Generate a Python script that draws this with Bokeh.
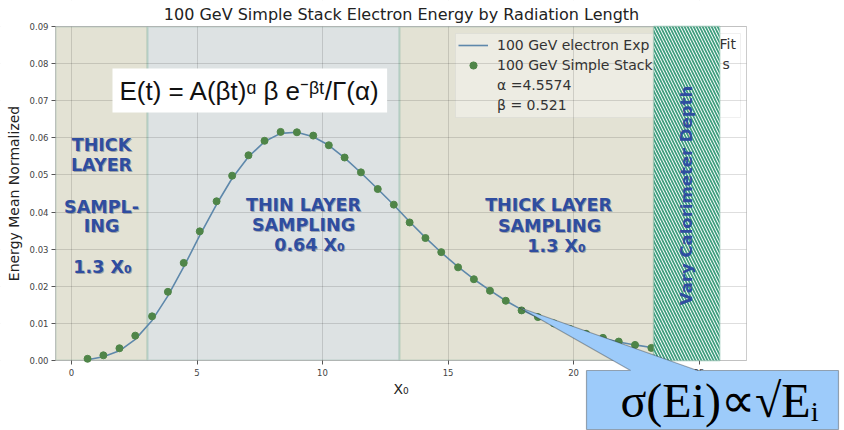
import numpy as np
from bokeh.plotting import figure
from bokeh.models import (BoxAnnotation, Label, PolyAnnotation, Legend, LegendItem,
                          FixedTicker, Range1d, NumeralTickFormatter, LinearAxis, Grid)
from bokeh.embed import file_html
from bokeh.resources import INLINE

# ---------------- data ----------------
depth_x0 = [0.64, 1.27, 1.91, 2.54, 3.21, 3.84, 4.47, 5.11, 5.78, 6.40, 7.05, 7.69,
            8.33, 8.98, 9.63, 10.25, 10.88, 11.53, 12.20, 12.84, 13.47, 14.10, 14.73,
            15.40, 16.03, 16.67, 17.30, 17.93, 18.58, 19.22, 19.86, 20.50, 21.17,
            21.80, 22.45, 23.10]
energy_mean = [0.00046, 0.0014, 0.0033, 0.0067, 0.0119, 0.0185, 0.0263, 0.0348,
               0.0429, 0.0498, 0.0553, 0.0592, 0.0616, 0.0615, 0.0606, 0.0580,
               0.0547, 0.0507, 0.0462, 0.0420, 0.0372, 0.0330, 0.0292, 0.0251,
               0.0219, 0.0188, 0.0161, 0.0135, 0.0117, 0.0100, 0.0085, 0.0072,
               0.0061, 0.0051, 0.0042, 0.0034]
fit_x0 = [0.64, 1.27, 1.91, 2.54, 3.21, 3.84, 4.47, 5.11, 5.78, 6.40, 7.05, 7.69,
          8.33, 8.98, 9.63, 10.25, 10.88, 11.53, 12.20, 12.84, 13.47, 14.10, 14.73,
          15.40, 16.03, 16.67, 17.30, 17.93, 18.58, 19.22, 19.86, 20.50, 21.17,
          21.80, 22.45, 23.10]
fit_energy = [0.0002, 0.0010, 0.0026, 0.0057, 0.0108, 0.0174, 0.0252, 0.0337,
              0.0421, 0.0491, 0.0549, 0.0590, 0.0612, 0.0615, 0.0603, 0.0580,
              0.0546, 0.0506, 0.0462, 0.0419, 0.0374, 0.0331, 0.0291, 0.0252,
              0.0219, 0.0189, 0.0161, 0.0137, 0.0116, 0.0099, 0.0084, 0.0071,
              0.0060, 0.0050, 0.0042, 0.0035]

x_ticks = [0, 5, 10, 15, 20, 25]
y_ticks = [0.00, 0.01, 0.02, 0.03, 0.04, 0.05, 0.06, 0.07, 0.08, 0.09]

region_edges = [-0.6375, 3.03, 13.07, 23.2]   # thick | thin | thick sampling
vary_depth = [23.2, 25.82]

title = "100 GeV Simple Stack Electron Energy by Radiation Length"
# legend texts as visible in the picture (the hatched block hides the middle)
fit_label = "100 GeV electron Exp"
fit_label_tail = "Fit"
pts_label = "100 GeV Simple Stack"
pts_label_tail = "s"
alpha_label = "\u03b1 =4.5574"
beta_label = "\u03b2 = 0.521"

# ---------------- geometry helpers ----------------
W, H = 844, 430
FL, FR, FT, FB = 55, 746, 26, 360          # plot-area box in page pixels
XR = (-0.6375, 26.89)
YR = (0.0, 0.09)

def dx(px):
    return XR[0] + (px - FL) * (XR[1] - XR[0]) / (FR - FL)

def dy(py):
    return YR[0] + (FB - py) * (YR[1] - YR[0]) / (FB - FT)

# the frame covers the whole canvas; the axes sit at fixed locations
p = figure(width=W, height=H, output_backend="svg", toolbar_location=None,
           x_range=Range1d(dx(0), dx(W)), y_range=Range1d(dy(H), dy(0)),
           x_axis_location=None, y_axis_location=None,
           min_border_left=0, min_border_right=0, min_border_top=0,
           min_border_bottom=0, title=None)
p.background_fill_color = "white"
p.border_fill_color = "white"
p.outline_line_color = None

xaxis = LinearAxis(fixed_location=YR[0], ticker=FixedTicker(ticks=x_ticks),
                   axis_label="X\u2080", bounds=XR)
yaxis = LinearAxis(fixed_location=XR[0], ticker=FixedTicker(ticks=y_ticks),
                   formatter=NumeralTickFormatter(format="0.00"),
                   axis_label="Energy Mean Normalized", bounds=YR)
for ax in (xaxis, yaxis):
    ax.axis_line_color = None
    ax.major_tick_line_color = "#555555"
    ax.major_tick_in = 0
    ax.major_tick_out = 4
    ax.minor_tick_line_color = None
    ax.major_label_text_font = "DejaVu Sans"
    ax.major_label_text_font_size = "8.5px"
    ax.major_label_text_color = "#444444"
    ax.axis_label_text_font = "DejaVu Sans"
    ax.axis_label_text_font_style = "normal"
    ax.axis_label_text_color = "#222222"
xaxis.axis_label_text_font_size = "14px"
xaxis.axis_label_standoff = 2
xaxis.major_label_standoff = 4
yaxis.axis_label_text_font_size = "14px"
yaxis.axis_label_standoff = 5
yaxis.major_label_standoff = 3
p.add_layout(xaxis, "below")
p.add_layout(yaxis, "left")

# ---------------- grid, shaded regions, masks ----------------
xgrid = Grid(dimension=0, ticker=FixedTicker(ticks=x_ticks), grid_line_color="#000000",
             grid_line_alpha=0.13, grid_line_width=1, level="underlay")
ygrid = Grid(dimension=1, ticker=FixedTicker(ticks=y_ticks), grid_line_color="#000000",
             grid_line_alpha=0.13, grid_line_width=1, level="underlay")

region_fills = ["#E3E2D4", "#DDE2E3", "#E3E2D4"]
boxes = []
for i, col in enumerate(region_fills):
    boxes.append(BoxAnnotation(left=region_edges[i], right=region_edges[i + 1],
                               bottom=YR[0], top=YR[1], fill_color=col, fill_alpha=1.0,
                               line_color="#6FAA94", line_width=2, level="underlay"))
legend_bg = BoxAnnotation(left=dx(455), right=dx(740), bottom=dy(117), top=dy(33),
                          fill_color="white", fill_alpha=0.35, line_color="#cccccc",
                          line_width=1, level="underlay")
masks = [
    BoxAnnotation(left=dx(0), right=XR[0], bottom=dy(H), top=dy(0)),
    BoxAnnotation(left=XR[1], right=dx(W), bottom=dy(H), top=dy(0)),
    BoxAnnotation(left=dx(0), right=dx(W), bottom=dy(H), top=YR[0]),
    BoxAnnotation(left=dx(0), right=dx(W), bottom=YR[1], top=dy(0)),
]
for m in masks:
    m.fill_color = "white"
    m.fill_alpha = 1.0
    m.line_color = None
    m.level = "underlay"
outline = BoxAnnotation(left=XR[0], right=XR[1], bottom=YR[0], top=YR[1],
                        fill_alpha=0, line_color="#555555", line_width=1,
                        level="underlay")
p.center = boxes + [legend_bg, xgrid, ygrid] + masks + [outline]

title_lbl = Label(x=dx(401), y=dy(14), text=title, text_align="center",
                  text_baseline="middle", text_font="DejaVu Sans",
                  text_font_size="16px", text_color="#222222")
p.add_layout(title_lbl)

# ---------------- data ----------------
r_fit = p.line(fit_x0, fit_energy, line_color="#5E88AB", line_width=1.6)
r_pts = p.scatter(depth_x0, energy_mean, size=7, fill_color="#4F8548",
                  line_color="#4F8548")
r_blank = p.scatter(x=[], y=[], fill_alpha=0, line_alpha=0)

legend = Legend(items=[LegendItem(label=fit_label, renderers=[r_fit]),
                       LegendItem(label=pts_label, renderers=[r_pts]),
                       LegendItem(label=alpha_label, renderers=[r_blank]),
                       LegendItem(label=beta_label, renderers=[r_blank])],
                location=(458, H - 114), orientation="vertical",
                label_text_font="DejaVu Sans", label_text_font_size="14px",
                label_text_color="#333333", glyph_width=30, glyph_height=18,
                label_height=18, label_standoff=9, spacing=2, padding=5, margin=0,
                background_fill_alpha=0, border_line_color=None)
p.add_layout(legend)
for txt, px, py in ((fit_label_tail, 719, 43), (pts_label_tail, 722, 63)):
    p.add_layout(Label(x=dx(px), y=dy(py), text=txt, text_align="left",
                       text_baseline="middle", text_font="DejaVu Sans",
                       text_font_size="14px", text_color="#333333"))

# ---------------- region texts ----------------
blue = "#2F4DA0"
def region_text(px, py, txt, size="17.5px"):
    sh = Label(x=dx(px + 1), y=dy(py + 1), text=txt, text_align="center",
               text_baseline="middle", text_font="DejaVu Sans",
               text_font_style="bold", text_font_size=size, text_color="#1a2a50",
               text_alpha=0.35)
    lb = Label(x=dx(px), y=dy(py), text=txt, text_align="center",
               text_baseline="middle", text_font="DejaVu Sans",
               text_font_style="bold", text_font_size=size, text_color=blue)
    p.add_layout(sh)
    p.add_layout(lb)

region_text(101, 144, "THICK")
region_text(101, 164, "LAYER")
region_text(101, 206, "SAMPL-")
region_text(101, 225, "ING")
region_text(102, 266, "1.3 X\u2080")
region_text(303, 204, "THIN LAYER")
region_text(303, 224, "SAMPLING")
region_text(309, 244, "0.64 X\u2080")
region_text(548, 204, "THICK LAYER")
region_text(549, 225, "SAMPLING")
region_text(556, 245, "1.3 X\u2080")

# ---------------- formula box ----------------
formula = Label(x=dx(112), y=dy(90),
                text="E(t) = A(\u03b2t)\u1d45 \u03b2 e\u207b\u1d5d\u1d57/\u0393(\u03b1)",
                text_align="left", text_baseline="middle",
                text_font="Liberation Sans", text_font_size="26px",
                text_color="#111111", background_fill_color="white",
                background_fill_alpha=1.0, padding=7)
p.add_layout(formula)

# ---------------- hatched "vary depth" block ----------------
hatch = BoxAnnotation(left=vary_depth[0], right=vary_depth[1], bottom=YR[0], top=YR[1],
                      fill_color="white", fill_alpha=1.0, hatch_pattern="\\",
                      hatch_color="#3E9D7D", hatch_weight=1.7, hatch_scale=6,
                      line_color="#5AAA8C", line_width=2, level="overlay")
p.add_layout(hatch)
vary = Label(x=dx(686), y=dy(195), text="Vary Calorimeter Depth", angle=np.pi / 2,
             text_align="center", text_baseline="middle",
             text_font="DejaVu Sans", text_font_style="bold",
             text_font_size="16.5px", text_color=blue, level="overlay")
p.add_layout(vary)

# ---------------- callout ----------------
call_px = [586, 630, 519, 697, 838, 838, 586]
call_py = [370, 370, 307, 370, 370, 429, 429]
callout = PolyAnnotation(xs=[dx(v) for v in call_px], ys=[dy(v) for v in call_py],
                         fill_color="#9DCBFA", fill_alpha=1.0, line_color="black",
                         line_width=1.2, level="overlay")
p.add_layout(callout)
sigma = Label(x=dx(719), y=dy(400), text="\u03c3(Ei)\u221d\u221aE\u1d62",
              text_align="center", text_baseline="middle",
              text_font="Liberation Serif", text_font_size="48px",
              text_color="black", level="overlay")
p.add_layout(sigma)

open("out.html", "w").write(file_html(p, INLINE))
